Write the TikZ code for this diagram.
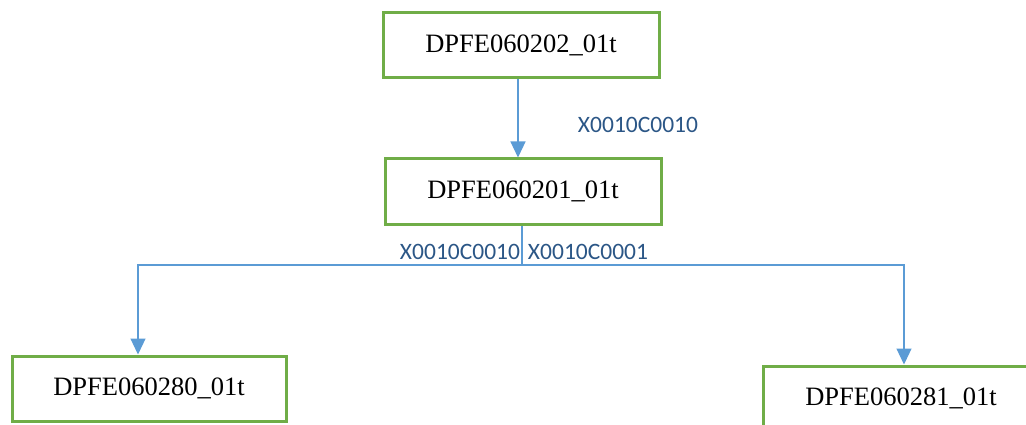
\documentclass[tikz,border=0pt]{standalone}
\usepackage{fontspec}
\setmainfont{Liberation Serif}
\newfontfamily\lblfont{Carlito}
\usetikzlibrary{arrows.meta}
\definecolor{boxgreen}{HTML}{70AD47}
\definecolor{arrblue}{HTML}{5B9BD5}
\definecolor{lblblue}{HTML}{2B5686}
\tikzset{
  box/.style={draw=boxgreen, line width=3pt, fill=white, minimum height=65pt, inner sep=0pt,
    font=\fontsize{26.5}{30}\selectfont},
  arr/.style={draw=arrblue, line width=1.2pt, -{Triangle[width=15pt,length=16pt]}},
  lbl/.style={text=lblblue, inner sep=0pt, font=\lblfont\fontsize{23.5}{26}\selectfont}
}
\begin{document}
\begin{tikzpicture}
\useasboundingbox (0,0) rectangle (1026pt,-425pt);
\clip (0,0) rectangle (1026pt,-425pt);
\node[box, minimum width=276pt] (top) at (521pt,-45.5pt) {DPFE060202\_01t};
\node[box, minimum width=276pt] (mid) at (523pt,-191.5pt) {DPFE060201\_01t};
\node[box, minimum width=274pt] (left) at (149pt,-388.5pt) {DPFE060280\_01t};
\node[box, minimum width=276pt] (right) at (901pt,-398.5pt) {DPFE060281\_01t};
\coordinate (ta) at (518pt,0pt);
\coordinate (j) at (522pt,-265pt);
\coordinate (lt) at (138pt,-265pt);
\coordinate (rt) at (904pt,-265pt);
\draw[arr] (top.south -| ta) -- (mid.north -| ta);
\draw[arr] (mid.south -| j) -- (j) -- (lt) -- (lt |- left.north);
\draw[arr] (j) -- (rt) -- (rt |- right.north);
\node[lbl] (l1) at (638pt,-125pt) {X0010C0010};
\node[lbl] (l2) at (460pt,-252pt) {X0010C0010};
\node[lbl] (l3) at (588pt,-252pt) {X0010C0001};
\end{tikzpicture}
\end{document}
